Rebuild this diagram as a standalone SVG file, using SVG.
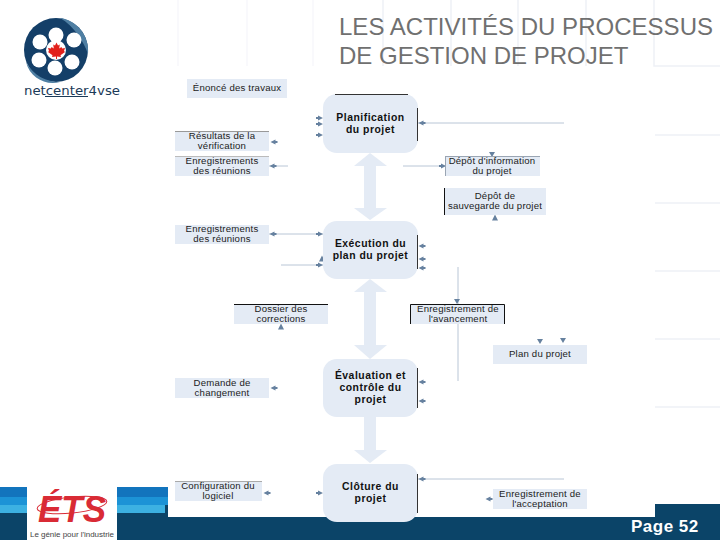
<svg xmlns="http://www.w3.org/2000/svg" width="720" height="540" viewBox="0 0 720 540">
<style>
.grid{stroke:#eef1f6;stroke-width:1.500;fill:none}
.faint{stroke:#f7f8fb;stroke-width:1.500;fill:none}
.doc{fill:#e4ebf5}
.node{fill:#e4ebf5}
.edge{fill:none;stroke:#333;stroke-width:1}
.dt{font-family:"Liberation Sans",Arial,sans-serif;font-size:9.600px;fill:#222;text-anchor:middle;letter-spacing:.2px}
.nt{font-family:"Liberation Sans",Arial,sans-serif;font-size:10.400px;font-weight:bold;fill:#111;text-anchor:middle;letter-spacing:.5px}
.title{font-family:"Liberation Sans",Arial,sans-serif;font-size:24px;fill:#707070}
.wire{fill:none;stroke:#b9c6d6;stroke-width:1}
.arr{fill:#e4ebf5}
.mk{fill:#66819f}
</style>
<defs>
<path id="ml" d="M-.500 0l5-2.500v1.500h2v2h-2V2.500z"/>
<path id="mr" d="M7 0l-5-2.500v1.500H0v2h2V2.500z"/>
<path id="md" d="M0 4l-3-5h6z"/>
<path id="mu" d="M0-3.500l3 6h-6z"/>
</defs>
<rect width="720" height="540" fill="#fff"/>
<g id="background">
<path class="faint" d="M178 0V66M247 0V66M313 0V66"/>
<path class="grid" d="M383 0V66M451 0V66M518 0V66M586 0V66M654 0V66H720M655 135H720M655 203H720M655 271H720M655 339H720M655 407H720"/>
</g>
<g id="footer">
<rect x="0" y="487" width="168" height="10" fill="#1274bd"/>
<rect x="0" y="497" width="168" height="8" fill="#1c93d6"/>
<rect x="0" y="505" width="168" height="8" fill="#3cb1e2"/>
<rect x="0" y="513" width="720" height="27" fill="#0b4468"/>
<rect x="165" y="505" width="3" height="9" fill="#0b4468"/>
<rect x="168" y="487" width="487" height="30" fill="#fff"/>
<rect x="655" y="504" width="65" height="36" fill="#0b4468"/>
<text x="631" y="532" font-family="Liberation Sans,Arial,sans-serif" font-size="17px" font-weight="bold" fill="#fff" letter-spacing=".5">Page 52</text>
</g>
<g id="logo-ets">
<rect x="27" y="480" width="90" height="60" fill="#fff"/>
<ellipse cx="72" cy="505" rx="35" ry="8" fill="none" stroke="#d92b35" stroke-width="1" transform="rotate(-6 72 505)"/>
<text x="72" y="522" font-family="Liberation Sans,Arial,sans-serif" font-size="36px" font-weight="bold" font-style="italic" fill="#d92b35" text-anchor="middle" textLength="68" lengthAdjust="spacingAndGlyphs">ÉTS</text>
<text x="72" y="537" font-family="Liberation Sans,Arial,sans-serif" font-size="8px" fill="#444" text-anchor="middle" textLength="84" lengthAdjust="spacing">Le génie pour l'industrie</text>
</g>
<g id="logo-netcenter">
<circle cx="56" cy="50" r="32" fill="#143f68"/>
<path d="M60 18C78 20 90 38 88 54C84 42 74 26 60 18Z" fill="#4f7fa3"/>
<path d="M26 62C34 76 46 82 60 82C46 86 30 78 26 62Z" fill="#4f7fa3"/>
<circle cx="56" cy="50" r="10" fill="#fff"/>
<circle cx="56" cy="35" r="7.500" fill="#fff"/>
<circle cx="40" cy="42" r="7.500" fill="#fff"/>
<circle cx="74" cy="40" r="7.500" fill="#fff"/>
<circle cx="39" cy="60" r="7.500" fill="#fff"/>
<circle cx="72" cy="62" r="7.500" fill="#fff"/>
<circle cx="55" cy="68" r="7.500" fill="#fff"/>
<path d="M56.500 42.500l1.500 3 1.800-1-.6 4 2.300-1.500.6 1.600 2.900-.5-1 3 1 .8-4.500 3.400.5 1.700-4-.5v2.500h-1v-2.500l-4 .5.500-1.700-4.500-3.400 1-.8-1-3 2.900.5.600-1.600 2.300 1.500-.6-4 1.800 1z" fill="#e2211c"/>
<text x="72" y="95" font-family="DejaVu Sans,Liberation Sans,sans-serif" font-size="13px" fill="#1b3a58" text-anchor="middle" textLength="96" lengthAdjust="spacingAndGlyphs">netcenter4vse</text>
<path d="M45 96.500H88" stroke="#1b3a58" stroke-width="1"/>
</g>
<g id="title">
<text class="title" x="339" y="35" textLength="374" lengthAdjust="spacing">LES ACTIVITÉS DU PROCESSUS</text>
<text class="title" x="339" y="64">DE GESTION DE PROJET</text>
</g>
<g id="connectors">
<path class="wire" d="M418 123H564M403 166H445M269 166H288M269 234H323M281 265H323M458 267V381M418 479H564"/>
<path class="arr" d="M370 153L387 166H376V208H387L370 220L354 208H364V166H354Z"/>
<path class="arr" d="M370 279L387 292H376V345H387L370 359L354 345H364V292H354Z"/>
<path class="arr" d="M364 417H376V450H387L370 463L354 450H364Z"/>
<g class="mk">
<use href="#mr" x="316" y="118"/><use href="#mr" x="316" y="124"/><use href="#mr" x="316" y="135"/>
<use href="#ml" x="271" y="142"/><use href="#ml" x="270" y="166"/><use href="#ml" x="270" y="234"/>
<use href="#mr" x="316" y="234"/><use href="#mr" x="316" y="265"/><use href="#mu" x="322" y="259"/>
<use href="#ml" x="419" y="123"/><use href="#mr" x="439" y="166"/>
<use href="#md" x="492" y="153"/><use href="#mu" x="495" y="218"/>
<use href="#ml" x="419" y="246"/><use href="#ml" x="419" y="259"/><use href="#ml" x="419" y="268"/>
<use href="#md" x="457" y="300"/><use href="#mu" x="281" y="327"/>
<use href="#md" x="540" y="340"/><use href="#md" x="563" y="339"/>
<use href="#ml" x="419" y="382"/><use href="#ml" x="419" y="401"/><use href="#ml" x="271" y="388"/>
<use href="#ml" x="264" y="493"/><use href="#mr" x="316" y="493"/><use href="#ml" x="419" y="479"/><use href="#ml" x="486" y="499"/>
</g>
</g>
<g id="n-enonce"><rect class="doc" x="187" y="79" width="100" height="19"/><text class="dt" x="237" y="91">Énoncé des travaux</text></g>
<g id="n-resultats"><rect class="doc" x="175" y="131" width="94" height="20"/><path d="M175 131.500H269" stroke="#999"/><text class="dt" x="222" y="139">Résultats de la</text><text class="dt" x="222" y="149">vérification</text></g>
<g id="n-enreg1"><rect class="doc" x="175" y="156" width="94" height="20"/><path d="M175 156.500H269" stroke="#bbb"/><text class="dt" x="222" y="164">Enregistrements</text><text class="dt" x="222" y="174">des réunions</text></g>
<g id="n-enreg2"><rect class="doc" x="175" y="225" width="94" height="19"/><text class="dt" x="222" y="232">Enregistrements</text><text class="dt" x="222" y="242">des réunions</text></g>
<g id="n-dossier"><rect class="doc" x="234" y="304" width="94" height="20"/><path d="M234 304.500H328" stroke="#111"/><text class="dt" x="281" y="312">Dossier des</text><text class="dt" x="281" y="322">corrections</text></g>
<g id="n-demande"><rect class="doc" x="175" y="378" width="94" height="20"/><text class="dt" x="222" y="386">Demande de</text><text class="dt" x="222" y="396">changement</text></g>
<g id="n-config"><rect class="doc" x="175" y="481" width="87" height="20"/><path d="M175 481.500H262" stroke="#aaa"/><text class="dt" x="218" y="489">Configuration du</text><text class="dt" x="218" y="499">logiciel</text></g>
<g id="n-depot"><rect class="doc" x="445" y="156" width="95" height="20"/><path d="M445 156.500H540M445.500 156V176" stroke="#9aa5b3" fill="none"/><text class="dt" x="492" y="164">Dépôt d'information</text><text class="dt" x="492" y="174">du projet</text></g>
<g id="n-sauvegarde"><rect class="doc" x="444" y="188" width="102" height="27"/><path d="M444.500 188V215" stroke="#111"/><text class="dt" x="495" y="199">Dépôt de</text><text class="dt" x="495" y="209">sauvegarde du projet</text></g>
<g id="n-avancement"><rect class="doc" x="410" y="304" width="95" height="20"/><path d="M410.500 324V304.500H504.500V324" stroke="#111" fill="none"/><text class="dt" x="458" y="312">Enregistrement de</text><text class="dt" x="458" y="322">l'avancement</text></g>
<g id="n-plan"><rect class="doc" x="493" y="345" width="94" height="19"/><text class="dt" x="540" y="357">Plan du projet</text></g>
<g id="n-acceptation"><rect class="doc" x="493" y="489" width="94" height="20"/><text class="dt" x="540" y="497">Enregistrement de</text><text class="dt" x="540" y="507">l'acceptation</text></g>
<g id="n-planification"><rect class="node" x="323" y="94" width="95" height="59" rx="14"/><path class="edge" d="M417.500 108V141M335 94.500H408"/><text class="nt" x="370.500" y="121">Planification</text><text class="nt" x="370.500" y="133">du projet</text></g>
<g id="n-execution"><rect class="node" x="323" y="221" width="95" height="58" rx="14"/><path class="edge" d="M417.500 235V269"/><text class="nt" x="370.500" y="247">Exécution du</text><text class="nt" x="370.500" y="259">plan du projet</text></g>
<g id="n-evaluation"><rect class="node" x="323" y="359" width="95" height="58" rx="14"/><path class="edge" d="M417.500 368V408"/><text class="nt" x="370.500" y="379">Évaluation et</text><text class="nt" x="370.500" y="391">contrôle du</text><text class="nt" x="370.500" y="403">projet</text></g>
<g id="n-cloture"><rect class="node" x="323" y="464" width="95" height="58" rx="14"/><path class="edge" d="M417.500 474V513"/><text class="nt" x="370.500" y="490">Clôture du</text><text class="nt" x="370.500" y="502">projet</text></g>
</svg>
